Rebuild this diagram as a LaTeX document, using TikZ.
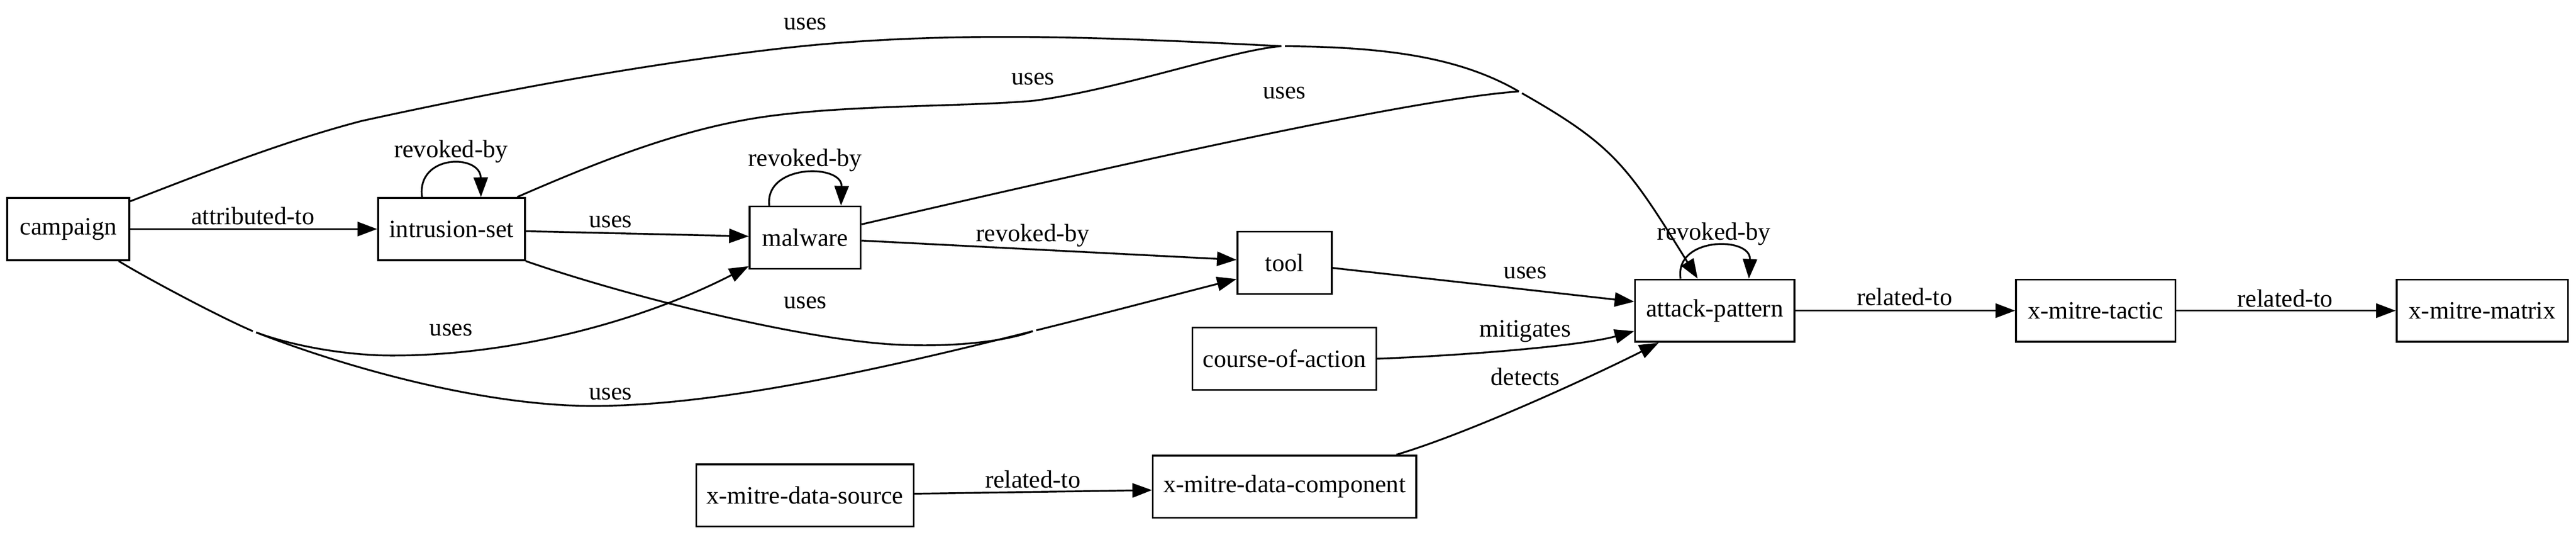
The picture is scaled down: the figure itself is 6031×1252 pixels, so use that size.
\documentclass[tikz,border=0pt]{standalone}
\usepackage{fontspec}
\setmainfont{Liberation Serif}
\usetikzlibrary{arrows.meta,calc}
\begin{document}
\begin{tikzpicture}[x=0.24bp,y=-0.24bp,
  every node/.style={font=\fontsize{14bp}{17bp}\selectfont},
  box/.style={draw,line width=1bp,rectangle,inner sep=0pt,minimum height=35bp},
  lbl/.style={inner sep=0pt},
  edge/.style={line width=1bp},
  arr/.style={edge,-{Triangle[length=11bp,width=8bp]}},
  gapstart/.style={shorten <=2bp}]
\useasboundingbox (0,0) rectangle (6031,1252);
% nodes
\node[box,minimum width=68.6bp]  (camp) at (160,536)    {campaign};
\node[box,minimum width=82.5bp]  (intr) at (1057,536)   {intrusion-set};
\node[box,minimum width=62.4bp]  (mal)  at (1885,556)   {malware};
\node[box,minimum width=53bp]    (tool) at (3007.5,615) {tool};
\node[box,minimum width=103.2bp] (coa)  at (3007,839.5) {course-of-action};
\node[box,minimum width=122.1bp] (ds)   at (1884.5,1159.5) {x-mitre-data-source};
\node[box,minimum width=148bp]   (dc)   at (3007.5,1139) {x-mitre-data-component};
\node[box,minimum width=89.5bp]  (ap)   at (4014.5,727) {attack-pattern};
\node[box,minimum width=89.5bp]  (tac)  at (4906.5,727) {x-mitre-tactic};
\node[box,minimum width=96.2bp]  (mat)  at (5811.5,727) {x-mitre-matrix};
% merge / split points
\coordinate (m1) at (3000,108);
\coordinate (m2) at (3556,214);
\coordinate (m3) at (2418,775);
\coordinate (s1) at (592,775);
% campaign -> intrusion-set
\draw[arr] (camp.east) -- (intr.west);
\node[lbl] (l1) at (592,505) {attributed-to};
% uses -> attack-pattern (concentrated)
\draw[edge] ($(camp.north east)+(0,10)$) .. controls (486,401) and (667,330) .. (847,283)
   .. controls (1167,213) and (1486,154) .. (1806,116)
   .. controls (2206,68) and (2600,88) .. (m1);
\node[lbl] (l2) at (1885,56) {uses};
\draw[edge] ($(intr.north east)+(-20,0)$) .. controls (1411,374) and (1606,297) .. (1806,271)
   .. controls (2006,245) and (2250,250) .. (2418,236)
   .. controls (2620,210) and (2880,118) .. (m1);
\node[lbl] (l3) at (2418,185) {uses};
\draw[edge] ($(mal.east)+(0,-31)$) .. controls (2600,390) and (3300,232) .. (m2);
\node[lbl] (l4) at (3007,217) {uses};
\draw[edge,gapstart] (m1) .. controls (3250,110) and (3420,135) .. (m2);
\draw[arr,gapstart] (m2) .. controls (3777,340) and (3809,385) .. ($(ap.north)+(-40,0)$);
% campaign -> malware / tool
\draw[edge] ($(camp.south east)+(-27,0)$) .. controls (340,649) and (510,740) .. (s1);
\draw[arr,gapstart] (s1) .. controls (692,812) and (818,832) .. (918,832)
   .. controls (1200,832) and (1500,753) .. ($(mal.south west)+(0,-8)$);
\node[lbl] (l5) at (1056,772) {uses};
\draw[edge,gapstart] (s1) .. controls (842,872) and (1150,950) .. (1388,950)
   .. controls (1700,950) and (2118,850) .. (m3);
\node[lbl] (l6) at (1429,922) {uses};
% intrusion-set -> tool
\draw[edge] (intr.south east) .. controls (1482,698) and (1900,800) .. (2112,807)
   .. controls (2230,812) and (2350,800) .. (m3);
\node[lbl] (l7) at (1885,708) {uses};
\draw[arr,gapstart] (m3) .. controls (2560,740) and (2750,690) .. ($(tool.west)+(0,38)$);
% intrusion-set -> malware
\draw[arr] ($(intr.east)+(0,5)$) -- ($(mal.west)+(0,-3)$);
\node[lbl] (l8) at (1429,519) {uses};
% self loops
\draw[arr] ($(intr.north)+(-69,0)$) .. controls (975,360) and (1125,360) .. ($(intr.north)+(69,0)$);
\node[lbl] (l9) at (1056,355) {revoked-by};
\draw[arr] ($(mal.north)+(-84,0)$) .. controls (1790,383) and (1972,383) .. ($(mal.north)+(84,0)$);
\node[lbl] (l10) at (1885,375) {revoked-by};
\draw[arr] ($(ap.north)+(-80,0)$) .. controls (3920,553) and (4100,553) .. ($(ap.north)+(80,0)$);
\node[lbl] (l11) at (4013,547) {revoked-by};
% malware -> tool
\draw[arr] ($(mal.east)+(0,7)$) -- ($(tool.west)+(0,-7)$);
\node[lbl] (l12) at (2418,551) {revoked-by};
% tool -> attack-pattern
\draw[arr] ($(tool.east)+(0,12)$) -- ($(ap.west)+(0,-21)$);
\node[lbl] (l13) at (3571,639) {uses};
% course-of-action -> attack-pattern
\draw[arr] (coa.east) .. controls (3424,832) and (3700,810) .. ($(ap.west)+(0,48)$);
\node[lbl] (l14) at (3571,775) {mitigates};
% data-component -> attack-pattern
\draw[arr] ($(dc.north)+(262,0)$) .. controls (3450,1010) and (3750,870) .. ($(ap.south)+(-131,0)$);
\node[lbl] (l15) at (3571,882) {detects};
% data-source -> data-component
\draw[arr] ($(ds.east)+(0,-4)$) -- ($(dc.west)+(0,8)$);
\node[lbl] (l16) at (2418,1122) {related-to};
% attack-pattern -> tactic -> matrix
\draw[arr] (ap.east) -- (tac.west);
\node[lbl] (l17) at (4459,695) {related-to};
\draw[arr] (tac.east) -- (mat.west);
\node[lbl] (l18) at (5350,698) {related-to};
\end{tikzpicture}
\end{document}
